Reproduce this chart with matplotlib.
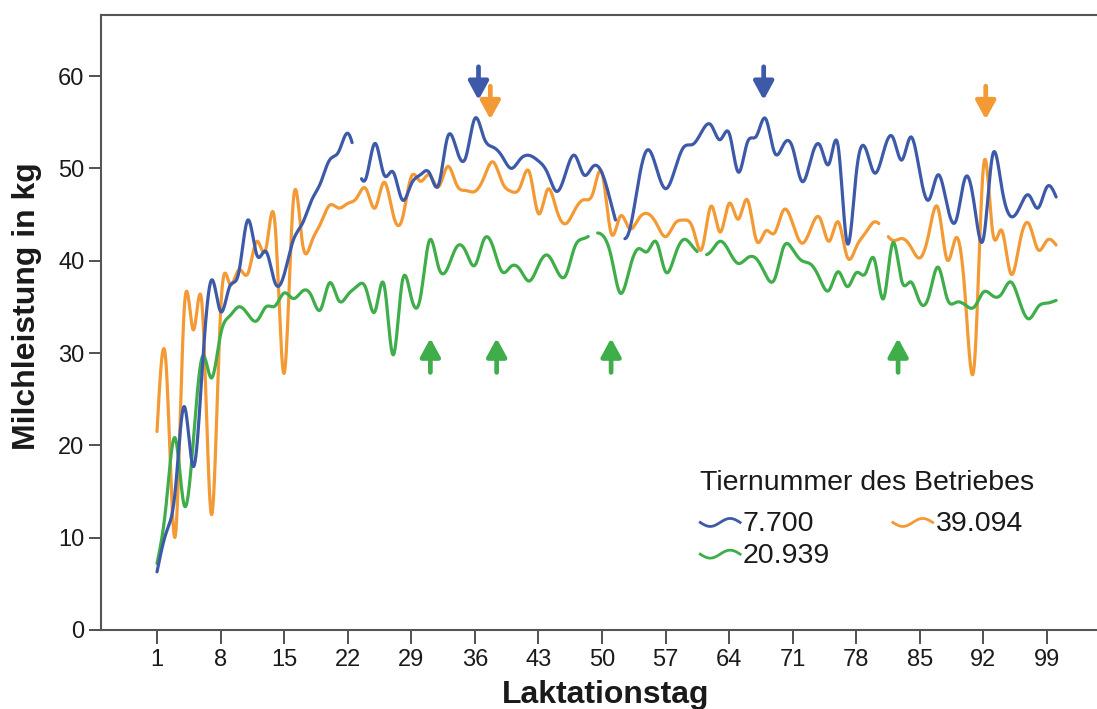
import numpy as np
import matplotlib
matplotlib.use("Agg")
import matplotlib.pyplot as plt
from matplotlib.legend_handler import HandlerBase
from matplotlib.lines import Line2D

nan = np.nan

# ---------------- data ----------------
days = list(range(1, 101))

cow_7700 = [
    6.3, 10.5, 15.0, 24.2, 17.7, 28.5, 37.9, 34.5, 37.2, 38.7,
    44.4, 40.6, 41.0, 37.6, 38.5, 42.2, 44.0, 46.5, 48.4, 50.9,
    51.8, 53.8, nan, 48.9, 52.7, 49.3, 49.6, 46.6, 48.3, 49.3,
    49.5, 48.2, 53.4, 52.0, 51.2, 55.4, 53.3, 52.3, 51.3, 50.0,
    51.0, 51.4, 50.8, 49.5, 47.5, 49.5, 51.4, 49.3, 50.2, 49.5,
    46.2, nan, 43.2, 48.5, 52.0, 50.0, 47.8, 49.8, 52.3, 52.6,
    54.0, 54.7, 53.1, 53.8, 49.6, 52.8, 53.5, 55.4, 51.7, 52.6,
    52.2, 48.6, 51.0, 52.5, 50.5, 52.4, 41.9, 49.5, 52.2, 49.5,
    51.8, 53.4, 50.9, 53.4, 49.5, 46.6, 49.3, 46.0, 44.4, 49.0,
    46.0, 42.4, 51.4, 48.0, 44.8, 45.8, 47.1, 45.7, 48.0, 46.9]

cow_20939 = [
    7.2, 13.5, 20.8, 13.5, 20.5, 29.6, 27.3, 32.0, 34.0, 35.0,
    34.2, 33.5, 35.0, 35.1, 36.5, 35.9, 36.7, 36.2, 34.7, 37.6,
    35.7, 36.3, 37.2, 37.0, 34.5, 37.4, 29.8, 37.7, 36.0, 36.0,
    42.2, 39.3, 39.2, 41.5, 41.0, 39.5, 42.3, 41.5, 38.8, 39.4,
    39.0, 37.8, 39.5, 40.6, 39.0, 38.4, 41.5, 42.4, nan, 42.8,
    40.5, 36.5, 39.0, 41.3, 41.0, 42.0, 38.8, 40.5, 42.3, 41.5,
    nan, 41.0, 42.1, 41.0, 39.7, 40.3, 40.2, 38.5, 38.0, 41.5,
    41.2, 40.0, 39.6, 38.0, 36.8, 38.8, 37.2, 38.7, 38.6, 40.1,
    35.9, 41.9, 37.8, 37.7, 35.5, 36.2, 39.3, 35.9, 35.5, 35.2,
    35.0, 36.6, 36.2, 36.4, 37.7, 35.5, 33.7, 35.0, 35.4, 35.7]

cow_39094 = [
    21.5, 28.8, 10.1, 34.8, 32.5, 34.7, 12.5, 34.5, 37.5, 39.0,
    38.6, 42.1, 41.3, 43.9, 27.8, 46.4, 42.0, 42.0, 44.0, 46.0,
    45.7, 46.2, 46.8, 47.8, 45.7, 48.5, 45.0, 44.5, 49.1, 48.6,
    49.3, 48.0, 50.2, 48.2, 47.6, 47.5, 49.0, 50.7, 48.5, 47.5,
    48.0, 49.6, 45.1, 47.7, 45.5, 44.0, 45.5, 46.6, 47.3, 49.5,
    43.0, 44.8, 43.5, 44.5, 45.1, 44.0, 42.6, 44.0, 44.4, 43.5,
    41.3, 45.9, 43.1, 46.2, 44.5, 46.6, 42.2, 43.2, 43.0, 45.5,
    44.0, 41.9, 43.5, 44.6, 42.1, 44.2, 40.4, 41.5, 43.0, 44.2,
    nan, 42.2, 42.4, 41.5, 40.3, 43.0, 45.7, 40.1, 42.5, 36.0,
    28.8, 50.2, 43.2, 43.3, 38.6, 42.0, 44.0, 41.2, 42.2, 41.7]

series_labels = ["7.700", "20.939", "39.094"]
x_ticks = list(range(1, 100, 7))
y_ticks = [0, 10, 20, 30, 40, 50, 60]

# marker arrows (day, tip value, tail value)
arrows_7700 = [(36.4, 57.4, 61.0), (67.8, 57.4, 61.0)]
arrows_39094 = [(37.7, 55.3, 58.9), (92.25, 55.3, 58.9)]
arrows_20939 = [(31.1, 31.6, 27.9), (38.4, 31.6, 27.9),
                (51.0, 31.6, 27.9), (82.6, 31.6, 27.9)]

colors = {"7.700": "#3d5aa9", "20.939": "#3fae4a", "39.094": "#f39a35"}


# ---------------- helpers ----------------
def natural_spline(x, y, xs):
    x = np.asarray(x, float)
    y = np.asarray(y, float)
    n = len(x)
    h = np.diff(x)
    A = np.zeros((n, n))
    r = np.zeros(n)
    A[0, 0] = A[-1, -1] = 1
    for i in range(1, n - 1):
        A[i, i - 1] = h[i - 1]
        A[i, i] = 2 * (h[i - 1] + h[i])
        A[i, i + 1] = h[i]
        r[i] = 6 * ((y[i + 1] - y[i]) / h[i] - (y[i] - y[i - 1]) / h[i - 1])
    M = np.linalg.solve(A, r)
    idx = np.clip(np.searchsorted(x, xs) - 1, 0, n - 2)
    x0, x1 = x[idx], x[idx + 1]
    hh = x1 - x0
    a = (x1 - xs) / hh
    b = (xs - x0) / hh
    return (a * y[idx] + b * y[idx + 1]
            + ((a ** 3 - a) * M[idx] + (b ** 3 - b) * M[idx + 1]) * hh ** 2 / 6)


def draw_series(ax, x, y, color, gap=0.5):
    """Spline through the recorded days; the curve is interrupted
    around days without a record."""
    x = np.asarray(x, float)
    y = np.asarray(y, float)
    ok = ~np.isnan(y)
    xs = np.linspace(x[0], x[-1], int((x[-1] - x[0]) * 25) + 1)
    ys = natural_spline(x[ok], y[ok], xs)
    for m in x[~ok]:
        ys[np.abs(xs - m) < gap] = np.nan
    ax.plot(xs, ys, color=color, lw=2.3, solid_capstyle="round", zorder=3)


class WaveHandler(HandlerBase):
    def create_artists(self, legend, orig_handle, xdescent, ydescent,
                       width, height, fontsize, trans):
        t = np.linspace(0, 1, 40)
        xs = -xdescent + t * width
        ys = -ydescent + height * 0.42 - height * 0.2 * np.sin(2 * np.pi * t)
        ln = Line2D(xs, ys, color=orig_handle.get_color(), lw=2.0,
                    transform=trans)
        return [ln]


# ---------------- figure ----------------
W, H = 1097, 709
fig = plt.figure(figsize=(W / 100, H / 100), dpi=100)
plt.rcParams["font.family"] = ["Liberation Sans", "DejaVu Sans"]

ax_left, ax_right, ax_top, ax_bot = 101, 1097, 15, 630
ax = fig.add_axes([ax_left / W, 1 - ax_bot / H,
                   (ax_right - ax_left) / W, (ax_bot - ax_top) / H])

px_per_day = 9.082
px_per_kg = 9.233
x0 = 1 - (157 - ax_left) / px_per_day
ax.set_xlim(x0, x0 + (ax_right - ax_left) / px_per_day)
ax.set_ylim(0, (ax_bot - ax_top) / px_per_kg)

data = {"7.700": cow_7700, "20.939": cow_20939, "39.094": cow_39094}
for lab in ["39.094", "20.939", "7.700"]:
    draw_series(ax, days, data[lab], colors[lab])


def arrow(day, tip, tail, color):
    ax.annotate("", xy=(day, tip), xytext=(day, tail),
                arrowprops=dict(arrowstyle="-|>,head_length=0.55,head_width=0.3",
                                color=color, lw=3.4, mutation_scale=20,
                                shrinkA=0, shrinkB=0), zorder=4)


for d, tp, tl in arrows_7700:
    arrow(d, tp, tl, colors["7.700"])
for d, tp, tl in arrows_39094:
    arrow(d, tp, tl, colors["39.094"])
for d, tp, tl in arrows_20939:
    arrow(d, tp, tl, colors["20.939"])

ax.set_xticks(x_ticks)
ax.set_xticklabels([str(t) for t in x_ticks])
ax.set_yticks(y_ticks)
ax.set_yticklabels([str(t) for t in y_ticks])
ax.tick_params(axis="x", length=10, width=1.2, pad=4, labelsize=17,
               colors="#333333", labelcolor="#1a1a1a")
ax.tick_params(axis="y", length=9, width=1.2, pad=3, labelsize=17,
               colors="#333333", labelcolor="#1a1a1a")
for side in ["left", "bottom", "top"]:
    ax.spines[side].set_color("#555555")
    ax.spines[side].set_linewidth(1.5)
ax.spines["right"].set_visible(False)

fig.text(606 / W, 1 - 695 / H, "Laktationstag", ha="center", va="center",
         fontsize=23, fontweight="bold", color="#1a1a1a")
fig.text(27 / W, 1 - 306 / H, "Milchleistung in kg", ha="center",
         va="center", rotation=90, fontsize=23, fontweight="bold",
         color="#1a1a1a")

handles = [Line2D([], [], color=colors[l]) for l in series_labels]
leg = ax.legend(handles, series_labels, title="Tiernummer des Betriebes",
                ncol=2, frameon=False, loc="upper left",
                bbox_to_anchor=(686 / W, 1 - 456 / H),
                bbox_transform=fig.transFigure, fontsize=20.5,
                title_fontsize=20.5, handlelength=1.4, handletextpad=0.1,
                columnspacing=2.2, labelspacing=0.2, borderpad=0.0,
                alignment="left",
                handler_map={Line2D: WaveHandler()})
leg._legend_box.sep = 10.5
for t in leg.get_texts():
    t.set_color("#1a1a1a")
leg.get_title().set_color("#1a1a1a")

fig.savefig("out.png", dpi=100)
